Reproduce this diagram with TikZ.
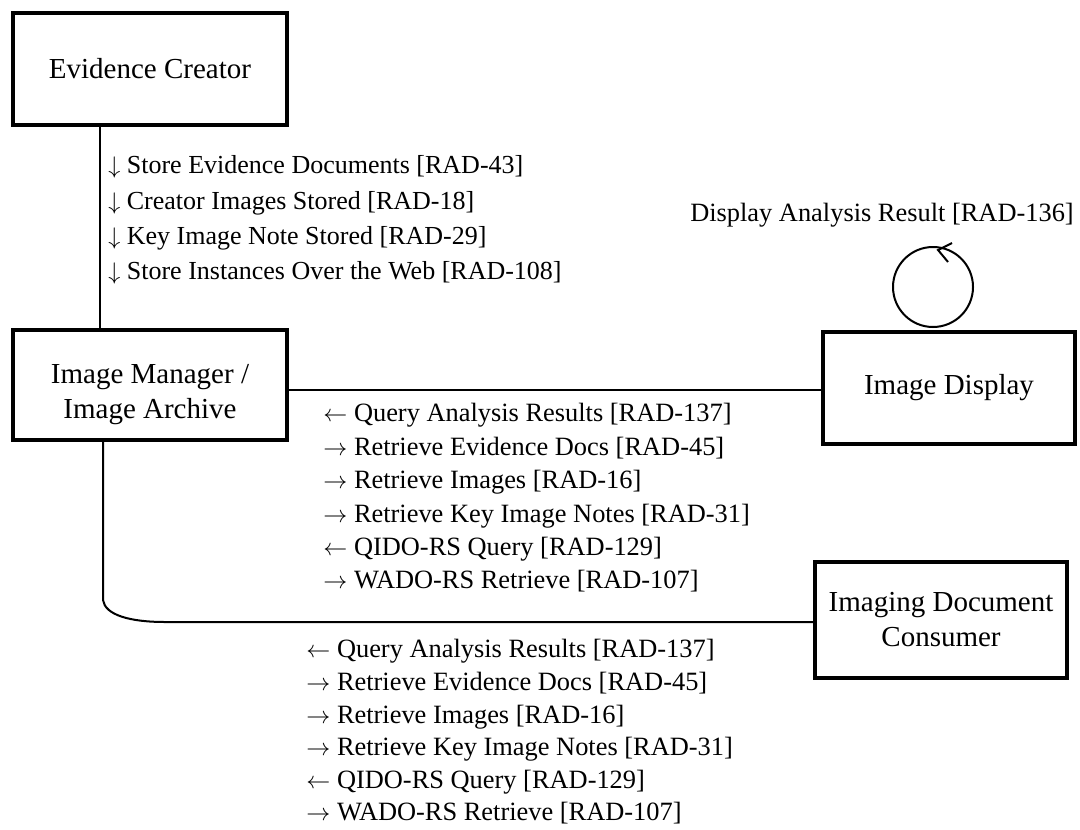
\documentclass[tikz,border=0pt]{standalone}
\usepackage{fontspec}
\setmainfont{Liberation Serif}

\begin{document}
\begin{tikzpicture}[x=0.5pt,y=-0.5pt]
	\tikzset{
		actor/.style = {draw, line width=1.6pt, align=center, inner sep=0pt,
			font=\fontsize{14.5}{17.5}\selectfont},
		txn/.style = {anchor=west, align=left, inner sep=0pt},
		link/.style = {line width=1pt}}
	\useasboundingbox (0,0) rectangle (1080,829);
	% actors
	\node[actor, minimum width=137pt, minimum height=56pt] (evc) at (150,69) {Evidence Creator};
	\node[actor, minimum width=137pt, minimum height=55pt,
		label={[font=\fontsize{14.5}{17.5}\selectfont, align=center, yshift=-5pt]center:Image Manager /\\Image Archive}] (ima) at (150,385) {};
	\node[actor, minimum width=126pt, minimum height=56pt] (disp) at (949,388) {Image Display};
	\node[actor, minimum width=126pt, minimum height=58pt] (cons) at (941,620) {Imaging Document\\Consumer};
	% connections
	\draw[link] (evc.south -| 100,0) -- (ima.north -| 100,0);
	\draw[link] (ima.east |- 0,390) -- (disp.west |- 0,390);
	\draw[link] (ima.south -| 103,0) -- (103,600) .. controls (105,615) and (130,622) .. (165,622) -- (cons.west |- 0,622);
	\draw[link] (933,287) circle (40);
	\draw[link] (952,243) -- (938,250) -- (948,262);
	% transactions
	\node[txn, font=\fontsize{13}{17.6}\selectfont] (t1) at (108,220) {%
		$\downarrow$ Store Evidence Documents [RAD-43]\\
		$\downarrow$ Creator Images Stored [RAD-18]\\
		$\downarrow$ Key Image Note Stored [RAD-29]\\
		$\downarrow$ Store Instances Over the Web [RAD-108]};
	\node[font=\fontsize{13.2}{15}\selectfont, inner sep=0pt] (t2) at (882,215) {Display Analysis Result [RAD-136]};
	\node[txn, font=\fontsize{13.2}{16.7}\selectfont] (t3) at (323,498) {%
		$\leftarrow$ Query Analysis Results [RAD-137]\\
		$\rightarrow$ Retrieve Evidence Docs [RAD-45]\\
		$\rightarrow$ Retrieve Images [RAD-16]\\
		$\rightarrow$ Retrieve Key Image Notes [RAD-31]\\
		$\leftarrow$ QIDO-RS Query [RAD-129]\\
		$\rightarrow$ WADO-RS Retrieve [RAD-107]};
	\node[txn, font=\fontsize{13.2}{16.3}\selectfont] (t4) at (306,732) {%
		$\leftarrow$ Query Analysis Results [RAD-137]\\
		$\rightarrow$ Retrieve Evidence Docs [RAD-45]\\
		$\rightarrow$ Retrieve Images [RAD-16]\\
		$\rightarrow$ Retrieve Key Image Notes [RAD-31]\\
		$\leftarrow$ QIDO-RS Query [RAD-129]\\
		$\rightarrow$ WADO-RS Retrieve [RAD-107]};
\end{tikzpicture}
\end{document}
